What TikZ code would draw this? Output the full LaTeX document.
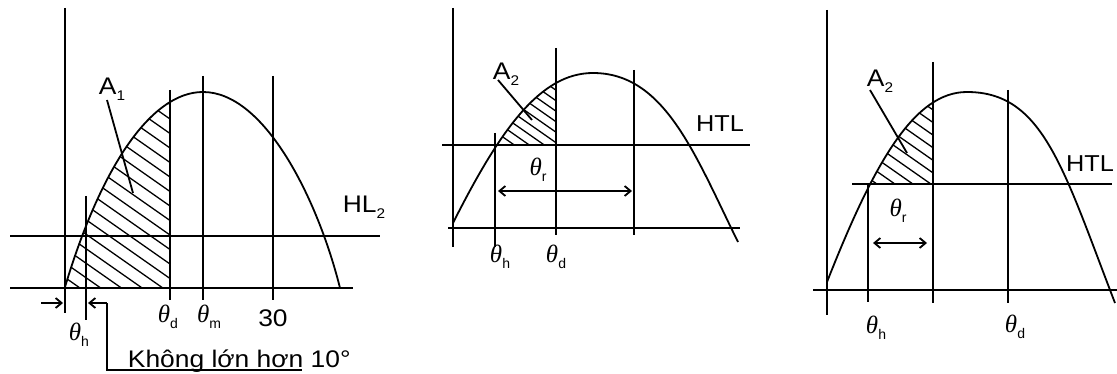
\documentclass[tikz,border=0pt]{standalone}
\usepackage{fontspec}
\usepackage{graphicx}
\setmainfont{Liberation Sans}
\newfontfamily\thfont{Liberation Serif}
\usetikzlibrary{arrows.meta}
\newcommand\lsub[1]{\raisebox{-0.45ex}{\fontsize{14}{14}\selectfont #1}}
\newcommand\wide[1]{\scalebox{1.1}[1]{#1}}
\newcommand\thx[1]{{\thfont\itshape θ}\lsub{#1}}
\begin{document}
\begin{tikzpicture}[x=1pt,y=-1pt,line width=1.8pt,
  lab/.style={inner sep=0pt,font=\fontsize{24}{28}\selectfont},
  labs/.style={inner sep=0pt,font=\fontsize{23}{27}\selectfont},
  thlab/.style={inner sep=0pt,font=\fontsize{25}{28}\selectfont},
  hatch/.style={line width=1.3pt},
  tipr/.style={-{Straight Barb[length=6pt,width=10pt]}},
  tipb/.style={{Straight Barb[length=6pt,width=10pt]}-{Straight Barb[length=6pt,width=10pt]}}]
\useasboundingbox (0,0) rectangle (1117,374);

% ---------------- Panel 1 ----------------
\def\curveA{(65,287) .. controls (100,170) and (150,92) .. (203,92) .. controls (265,92) and (318,200) .. (340,288)}
\begin{scope}
  \clip (65,0) rectangle (170,288);
  \clip \curveA -- cycle;
  \foreach \k in {-9,...,15}
    \draw[hatch] (60,{100+\k*14.5}) -- (180,{100+\k*14.5+120*0.7});
\end{scope}
\draw \curveA;
\draw (65,8) -- (65,313);
\draw (10,288) -- (353,288);
\draw (10,236) -- (380,236);
\draw (86,196) -- (86,320);
\draw (170,90) -- (170,300);
\draw (203,76) -- (203,300);
\draw (273,76) -- (273,300);
\node[lab] (a1) at (112,89) {\wide{A\lsub{1}}};
\draw (107,100) -- (133,193);
\node[lab] (hl2) at (364,207) {\wide{HL\lsub{2}}};
\node[thlab] (thd1) at (168,317) {\thx{d}};
\node[thlab] (thm1) at (209,317) {\thx{m}};
\node[lab] (n30) at (273,318) {\wide{30}};
\node[thlab] (thh1) at (79,335) {\thx{h}};
\coordinate (la) at (41,303);
\coordinate (lb) at (63,303);
\coordinate (ra) at (107,303);
\coordinate (rb) at (88,303);
\draw[tipr] (la) -- (lb);
\draw[tipr] (ra) -- (rb);
\draw (ra) -- (107,370) -- (302,370);
\node[lab,anchor=base west] (note) at (127,367) {\wide{Không lớn hơn 10°}};

% ---------------- Panel 2 ----------------
\def\curveB{(453,223) .. controls (500,130) and (540,73) .. (593,73) .. controls (665,73) and (695,155) .. (738,242)}
\begin{scope}
  \clip (495,0) rectangle (556,145);
  \clip \curveB -- cycle;
  \foreach \k in {-8,...,8}
    \draw[hatch] (480,{100+\k*10.5}) -- (570,{100+\k*10.5+90*0.7});
\end{scope}
\draw \curveB;
\draw (453,8) -- (453,247);
\draw (448,228) -- (740,228);
\draw (442,145) -- (750,145);
\draw (495,133) -- (495,247);
\draw (556,48) -- (556,235);
\draw (634,70) -- (634,235);
\node[lab] (a2b) at (506,74) {\wide{A\lsub{2}}};
\draw (498,80) -- (532,120);
\node[labs] (htlb) at (720,124) {\wide{HTL}};
\node[thlab] (thrb) at (538,170) {\thx{r}};
\coordinate (pa) at (498,191);
\coordinate (pb) at (632,191);
\draw[tipb] (pa) -- (pb);
\node[thlab] (thhb) at (500,257) {\thx{h}};
\node[thlab] (thdb) at (556,257) {\thx{d}};

% ---------------- Panel 3 ----------------
\def\curveC{(827,282) .. controls (875,160) and (915,92) .. (967,92) .. controls (1043,92) and (1063,168) .. (1115,303)}
\begin{scope}
  \clip (868,0) rectangle (933,184);
  \clip \curveC -- cycle;
  \foreach \k in {-8,...,8}
    \draw[hatch] (850,{140+\k*12.6}) -- (950,{140+\k*12.6+100*0.7});
\end{scope}
\draw \curveC;
\draw (827,10) -- (827,315);
\draw (813,290) -- (1117,290);
\draw (852,184) -- (1112,184);
\draw (868,183) -- (868,302);
\draw (933,62) -- (933,303);
\draw (1008,90) -- (1008,303);
\node[lab] (a2c) at (880,81) {\wide{A\lsub{2}}};
\draw (870,90) -- (907,153);
\node[labs] (htlc) at (1090,164) {\wide{HTL}};
\node[thlab] (thrc) at (898,211) {\thx{r}};
\coordinate (qa) at (873,243);
\coordinate (qb) at (927,243);
\draw[tipb] (qa) -- (qb);
\node[thlab] (thhc) at (876,328) {\thx{h}};
\node[thlab] (thdc) at (1015,327) {\thx{d}};
\end{tikzpicture}
\end{document}
